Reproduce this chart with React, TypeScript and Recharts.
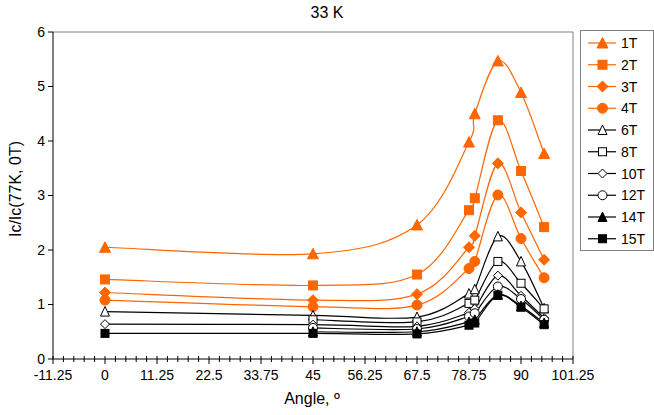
import React from 'react'
import { LineChart, Line, XAxis, YAxis, ReferenceLine } from 'recharts'

const angles = [0, 45, 67.5, 78.75, 80, 85, 90, 95]

const t1 = [2.05, 1.93, 2.46, 3.98, 4.5, 5.47, 4.89, 3.77]
const t2 = [1.46, 1.35, 1.55, 2.73, 2.95, 4.38, 3.45, 2.42]
const t3 = [1.22, 1.08, 1.19, 2.05, 2.26, 3.59, 2.69, 1.82]
const t4 = [1.08, 0.96, 0.99, 1.66, 1.79, 3.01, 2.21, 1.49]
const t6 = [0.87, 0.8, 0.77, 1.2, 1.28, 2.25, 1.79, 0.93]
const t8 = [null, 0.72, 0.68, 1.02, 1.08, 1.79, 1.39, 0.92]
const t10 = [0.64, 0.63, 0.6, 0.85, 0.92, 1.53, 1.16, 0.75]
const t12 = [null, 0.57, 0.55, 0.78, 0.84, 1.33, 1.1, 0.72]
const t14 = [null, 0.5, 0.5, 0.68, 0.72, 1.18, 0.97, 0.66]
const t15 = [0.47, 0.47, 0.46, 0.62, 0.66, 1.17, 0.95, 0.63]

const xTickLabels = ['-11.25', '0', '11.25', '22.5', '33.75', '45', '56.25', '67.5', '78.75', '90', '101.25']
const yTicks = [0, 1, 2, 3, 4, 5, 6]

const ORANGE = '#FF6600'
const FONT = '"Liberation Sans", Arial, sans-serif'

type Shape = 'triangle' | 'square' | 'diamond' | 'circle'

const series: { name: string; values: (number | null)[]; color: string; shape: Shape; filled: boolean }[] = [
  { name: '1T', values: t1, color: ORANGE, shape: 'triangle', filled: true },
  { name: '2T', values: t2, color: ORANGE, shape: 'square', filled: true },
  { name: '3T', values: t3, color: ORANGE, shape: 'diamond', filled: true },
  { name: '4T', values: t4, color: ORANGE, shape: 'circle', filled: true },
  { name: '6T', values: t6, color: '#000', shape: 'triangle', filled: false },
  { name: '8T', values: t8, color: '#000', shape: 'square', filled: false },
  { name: '10T', values: t10, color: '#000', shape: 'diamond', filled: false },
  { name: '12T', values: t12, color: '#000', shape: 'circle', filled: false },
  { name: '14T', values: t14, color: '#000', shape: 'triangle', filled: true },
  { name: '15T', values: t15, color: '#000', shape: 'square', filled: true },
]

const data = angles.map((a, i) => {
  const row: any = { angle: a }
  series.forEach((s) => (row[s.name] = s.values[i]))
  return row
})

// minor ticks every 2.25 deg, labelled every 11.25
const xMin = -11.25
const xMax = 101.25
const xTicks: number[] = []
for (let i = 0; i <= 50; i++) xTicks.push(xMin + i * 2.25)

// Excel-style smoothing (Catmull-Rom with 1/6 control points)
function excelCurve(context: any) {
  let xs: number[] = []
  let ys: number[] = []
  return {
    areaStart() {},
    areaEnd() {},
    lineStart() {
      xs = []
      ys = []
    },
    point(x: number, y: number) {
      xs.push(+x)
      ys.push(+y)
    },
    lineEnd() {
      const n = xs.length
      if (!n) return
      context.moveTo(xs[0], ys[0])
      for (let i = 0; i < n - 1; i++) {
        const p = Math.max(i - 1, 0)
        const q = Math.min(i + 2, n - 1)
        context.bezierCurveTo(
          xs[i] + (xs[i + 1] - xs[p]) / 6,
          ys[i] + (ys[i + 1] - ys[p]) / 6,
          xs[i + 1] - (xs[q] - xs[i]) / 6,
          ys[i + 1] - (ys[q] - ys[i]) / 6,
          xs[i + 1],
          ys[i + 1]
        )
      }
    },
  }
}

function Marker({ cx, cy, shape, color, filled }: { cx: number; cy: number; shape: Shape; color: string; filled: boolean }) {
  const fill = filled ? color : '#fff'
  const stroke = color
  const big = color === ORANGE
  const r = big ? 5 : 4.5
  if (shape === 'triangle') {
    const h = big ? 10 : 9
    const w = big ? 11 : 9
    return (
      <polygon
        points={`${cx},${cy - h / 2 - 0.5} ${cx - w / 2},${cy + h / 2} ${cx + w / 2},${cy + h / 2}`}
        fill={fill}
        stroke={stroke}
        strokeWidth={1}
      />
    )
  }
  if (shape === 'square') {
    const s = big ? 9 : 8
    return <rect x={cx - s / 2} y={cy - s / 2} width={s} height={s} fill={fill} stroke={stroke} strokeWidth={1} />
  }
  if (shape === 'diamond') {
    const d = big ? 5.5 : 4.5
    return (
      <polygon
        points={`${cx},${cy - d} ${cx + d},${cy} ${cx},${cy + d} ${cx - d},${cy}`}
        fill={fill}
        stroke={stroke}
        strokeWidth={1}
      />
    )
  }
  return <circle cx={cx} cy={cy} r={r} fill={fill} stroke={stroke} strokeWidth={1} />
}

function XTick({ x, y, payload }: any) {
  const v = payload.value
  const idx = Math.round((v - xMin) / 2.25)
  const major = idx % 5 === 0
  const label = major ? xTickLabels[idx / 5] : null
  return (
    <g>
      <line x1={x} x2={x} y1={y - 3} y2={major ? y + 5 : y + 3} stroke="#000" strokeWidth={1} />
      {label !== null && (
        <text x={x} y={y + 21} textAnchor="middle" fontSize={14} fontFamily={FONT} fill="#000">
          {label}
        </text>
      )}
    </g>
  )
}

function LegendBox() {
  return (
    <svg width={74} height={222} style={{ position: 'absolute', left: 579.5, top: 29.5 }}>
      <rect x={0.5} y={0.5} width={73} height={220} fill="#fff" stroke="#808080" strokeWidth={1} />
      {series.map((s, i) => {
        const cy = 13 + i * 21.75
        return (
          <g key={s.name}>
            <line x1={8} x2={36} y1={cy} y2={cy} stroke={s.color} strokeWidth={1.2} />
            <Marker cx={22.5} cy={cy} shape={s.shape} color={s.color} filled={s.filled} />
            <text x={41} y={cy + 5} fontSize={14} fontFamily={FONT} fill="#000">
              {s.name}
            </text>
          </g>
        )
      })}
    </svg>
  )
}

export default function App() {
  return (
    <div style={{ position: 'absolute', left: 0, top: 0, width: 654, height: 415, background: '#fff', fontFamily: FONT }}>
      <div style={{ position: 'absolute', left: 0, top: 4, width: 654, textAlign: 'center', fontSize: 16 }}>33 K</div>
      <div
        style={{
          position: 'absolute',
          left: 16,
          top: 189,
          transform: 'translate(-50%, -50%) rotate(-90deg)',
          whiteSpace: 'nowrap',
          fontSize: 16,
        }}
      >
        Ic/Ic(77K, 0T)
      </div>
      <div style={{ position: 'absolute', left: 262, top: 390, width: 100, textAlign: 'center', fontSize: 16 }}>
        Angle, º
      </div>
      <LineChart width={654} height={415} data={data} margin={{ top: 32, right: 81, left: 0, bottom: 0 }}>
        <XAxis
          dataKey="angle"
          type="number"
          domain={[xMin, xMax]}
          ticks={xTicks}
          interval={0}
          tickLine={false}
          tickSize={0}
          tickMargin={0}
          tick={<XTick />}
          stroke="#000"
          height={56}
          allowDataOverflow
        />
        <YAxis
          domain={[0, 6]}
          ticks={yTicks}
          interval={0}
          tickSize={5}
          tickMargin={3}
          stroke="#000"
          width={53}
          tick={{ fontSize: 14, fontFamily: FONT, fill: '#000' }}
          allowDataOverflow
        />
        <ReferenceLine y={6} stroke="#808080" />
        <ReferenceLine x={xMax} stroke="#808080" />
        {series.map((s) => (
          <Line
            key={s.name}
            dataKey={s.name}
            type={excelCurve as any}
            stroke={s.color}
            strokeWidth={1.2}
            isAnimationActive={false}
            dot={(p: any) =>
              p.cy == null || p.value == null ? (
                <g key={`${s.name}-${p.index}`} />
              ) : (
                <Marker key={`${s.name}-${p.index}`} cx={p.cx} cy={p.cy} shape={s.shape} color={s.color} filled={s.filled} />
              )
            }
            activeDot={false}
          />
        ))}
      </LineChart>
      <LegendBox />
    </div>
  )
}
